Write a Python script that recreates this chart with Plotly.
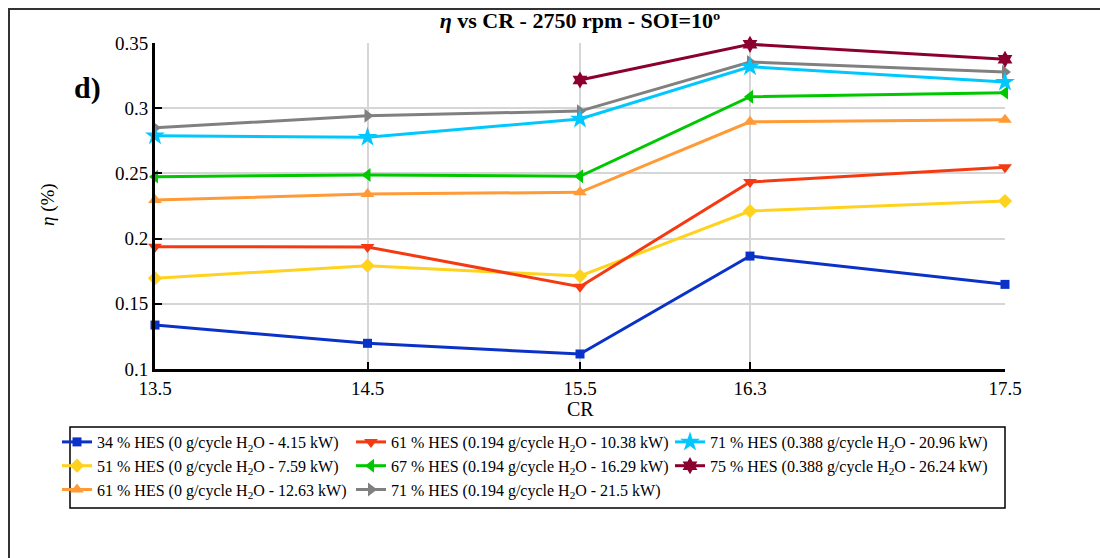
import plotly.graph_objects as go

# Compression ratios tested
cr = [13.5, 14.5, 15.5, 16.3, 17.5]
cr_labels = ["13.5", "14.5", "15.5", "16.3", "17.5"]

# Brake thermal efficiency for each hydrogen energy share case
eta_34_0g = [0.1337, 0.1197, 0.1115, 0.1866, 0.1649]
eta_51_0g = [0.1696, 0.1792, 0.1713, 0.2211, 0.2288]
eta_61_0g = [0.2296, 0.2342, 0.2355, 0.2896, 0.2912]
eta_61_0194g = [0.1938, 0.1936, 0.1631, 0.2434, 0.2547]
eta_67_0194g = [0.2475, 0.2488, 0.2478, 0.3088, 0.3119]
eta_71_0194g = [0.2850, 0.2942, 0.2978, 0.3354, 0.3278]
eta_71_0388g = [0.2789, 0.2777, 0.2917, 0.3318, 0.3200]
eta_75_0388g = [None, None, 0.3216, 0.3490, 0.3375]

y_ticks = [0.1, 0.15, 0.2, 0.25, 0.3, 0.35]
y_tick_labels = ["0.1", "0.15", "0.2", "0.25", "0.3", "0.35"]

FONT = "Liberation Serif"

# plot area in pixels: x 155..1005, y 43..369
L, R, T, B = 155, 1005, 43, 369


def px(x):
    return (x - L) / (R - L)


def py(y):
    return (B - y) / (B - T)


series = [
    # (name, values, colour, symbol, size, legend column)
    ("34 % HES (0 g/cycle H<sub>2</sub>O - 4.15 kW)", eta_34_0g, "#0a32c8", "square", 9, "legend"),
    ("51 % HES (0 g/cycle H<sub>2</sub>O - 7.59 kW)", eta_51_0g, "#ffd21e", "diamond", 11, "legend"),
    ("61 % HES (0 g/cycle H<sub>2</sub>O - 12.63 kW)", eta_61_0g, "#ff9a36", "triangle-up", 12, "legend"),
    ("61 % HES (0.194 g/cycle H<sub>2</sub>O - 10.38 kW)", eta_61_0194g, "#f53a12", "triangle-down", 12, "legend2"),
    ("67 % HES (0.194 g/cycle H<sub>2</sub>O - 16.29 kW)", eta_67_0194g, "#00c800", "triangle-left", 12, "legend2"),
    ("71 % HES (0.194 g/cycle H<sub>2</sub>O - 21.5 kW)", eta_71_0194g, "#808080", "triangle-right", 12, "legend2"),
    ("71 % HES (0.388 g/cycle H<sub>2</sub>O - 20.96 kW)", eta_71_0388g, "#00c8ff", "star", 15, "legend3"),
    ("75 % HES (0.388 g/cycle H<sub>2</sub>O - 26.24 kW)", eta_75_0388g, "#8b0030", "hexagram", 13, "legend3"),
]

fig = go.Figure()
for name, vals, color, symbol, size, leg in series:
    fig.add_trace(go.Scatter(
        x=cr, y=vals, name=name, mode="lines+markers",
        line=dict(color=color, width=3),
        marker=dict(symbol=symbol, size=size, color=color, line=dict(width=0)),
        cliponaxis=False, legend=leg,
    ))

legend_style = dict(
    orientation="v", xanchor="left", yanchor="top",
    y=py(425), bgcolor="rgba(0,0,0,0)", borderwidth=0,
    font=dict(family=FONT, size=16, color="black"),
    itemwidth=30, tracegroupgap=0,
)

fig.update_layout(
    width=1100, height=558,
    margin=dict(l=L, r=1100 - R, t=T, b=558 - B),
    paper_bgcolor="white", plot_bgcolor="white",
    font=dict(family=FONT, size=19, color="black"),
    showlegend=True,
    title=dict(
        text="<b><i>η</i> vs CR - 2750 rpm - SOI=10º</b>",
        x=0.5, xref="paper", xanchor="center",
        y=1 - 20 / 558, yref="container", yanchor="middle",
        font=dict(family=FONT, size=22, color="black"),
    ),
    xaxis=dict(
        range=[13.5, 17.5], tickvals=cr, ticktext=cr_labels,
        showgrid=True, gridcolor="#d6d6d6", gridwidth=1.5,
        showline=True, linecolor="black", linewidth=3,
        ticks="inside", ticklen=7, tickwidth=2, tickcolor="black",
        zeroline=False, tickfont=dict(family=FONT, size=19),
    ),
    yaxis=dict(
        range=[0.1, 0.35], tickvals=y_ticks, ticktext=y_tick_labels,
        showgrid=True, gridcolor="#d6d6d6", gridwidth=1.5,
        showline=True, linecolor="black", linewidth=3,
        ticks="inside", ticklen=7, tickwidth=2, tickcolor="black",
        zeroline=False, tickfont=dict(family=FONT, size=19),
    ),
    legend=dict(x=px(57), **legend_style),
    legend2=dict(x=px(351), **legend_style),
    legend3=dict(x=px(670), **legend_style),
)

# Axis titles and panel letter
fig.add_annotation(text="CR", x=0.5, y=py(409), xref="paper", yref="paper",
                   xanchor="center", yanchor="middle", showarrow=False,
                   font=dict(family=FONT, size=20, color="black"))
fig.add_annotation(text="<i>η</i> (%)", x=px(48), y=py(205),
                   xref="paper", yref="paper", xanchor="center", yanchor="middle",
                   textangle=-90, showarrow=False,
                   font=dict(family=FONT, size=19, color="black"))
fig.add_annotation(text="<b>d)</b>", x=px(87), y=py(88),
                   xref="paper", yref="paper", xanchor="center", yanchor="middle",
                   showarrow=False, font=dict(family=FONT, size=30, color="black"))

# Legend frame
fig.add_shape(type="rect", xref="paper", yref="paper",
              x0=px(70), x1=px(1005), y0=py(508), y1=py(427),
              line=dict(color="black", width=1.5), fillcolor="white", layer="below")

# Outer frame of the panel
fig.add_shape(type="rect", xref="paper", yref="paper",
              x0=px(9), x1=px(1120), y0=py(580), y1=py(9),
              line=dict(color="#333333", width=2), fillcolor="rgba(0,0,0,0)", layer="below")

fig.write_html("out.html")
